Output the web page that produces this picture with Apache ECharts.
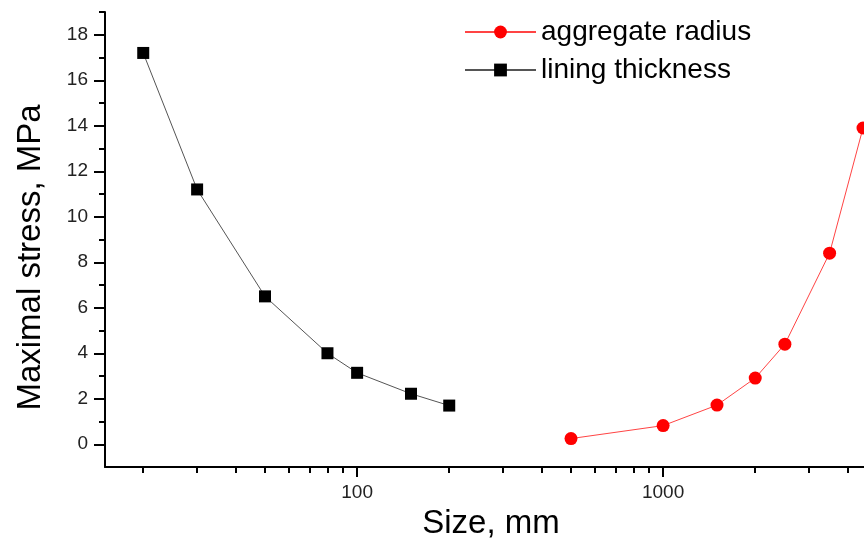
<!DOCTYPE html>
<html>
<head>
<meta charset="utf-8">
<script src="https://cdn.jsdelivr.net/npm/echarts@6/dist/echarts.min.js"></script>
<style>
html,body{margin:0;padding:0;background:#fff;overflow:hidden;width:864px;height:541px;}
#chart{width:877px;height:541px;}
</style>
</head>
<body>
<div id="chart"></div>
<script>
// Data
const liningSize = [20, 30, 50, 80, 100, 150, 200];
const liningStress = [17.2, 11.2, 6.5, 4.0, 3.14, 2.22, 1.7];
const aggregateSize = [500, 1000, 1500, 2000, 2500, 3500, 4500];
const aggregateStress = [0.25, 0.82, 1.72, 2.91, 4.4, 8.4, 13.9];
const xMajorTicks = [100, 1000];
const xMinorTicks = [20, 30, 40, 50, 60, 70, 80, 90, 200, 300, 400, 500, 600, 700, 800, 900, 2000, 3000, 4000, 5000];
const yMajorTicks = [0, 2, 4, 6, 8, 10, 12, 14, 16, 18];
const yMinorTicks = [1, 3, 5, 7, 9, 11, 13, 15, 17, 19];

const FONT = 'Liberation Sans, Arial, sans-serif';
const chart = echarts.init(document.getElementById('chart'));

const pairs = (xs, ys) => xs.map((x, i) => [x, ys[i]]);

chart.setOption({
  animation: false,
  backgroundColor: '#fff',
  grid: { left: 105, top: 12, right: 0, bottom: 74, containLabel: false, outerBoundsMode: 'none' },
  legend: {
    orient: 'vertical',
    left: 459,
    top: 13,
    itemWidth: 71,
    itemHeight: 16,
    itemGap: 10,
    data: ['aggregate radius', 'lining thickness'],
    textStyle: { fontFamily: FONT, fontSize: 28, color: '#000' }
  },
  xAxis: [
    {
      type: 'log', logBase: 10, min: 15, max: 5000,
      name: 'Size, mm', nameLocation: 'middle', nameGap: 40,
      nameTextStyle: { fontFamily: FONT, fontSize: 33, color: '#000' },
      axisLine: { show: true, onZero: false, lineStyle: { color: '#000', width: 2 } },
      axisTick: { show: true, length: 10, lineStyle: { color: '#000', width: 2 }, customValues: xMajorTicks },
      axisLabel: { fontFamily: FONT, fontSize: 19, color: '#222', margin: 16, customValues: xMajorTicks,
                   formatter: v => String(Math.round(v)) },
      splitLine: { show: false },
      minorTick: { show: false }
    },
    {
      type: 'log', logBase: 10, min: 15, max: 5000, position: 'bottom',
      axisLine: { show: false, onZero: false },
      axisTick: { show: true, length: 6, lineStyle: { color: '#000', width: 2 }, customValues: xMinorTicks },
      axisLabel: { show: false },
      splitLine: { show: false }
    }
  ],
  yAxis: [
    {
      type: 'value', min: -1, max: 19,
      name: 'Maximal stress, MPa', nameLocation: 'middle', nameGap: 58,
      nameTextStyle: { fontFamily: FONT, fontSize: 33, color: '#000', padding: [0, 36, 0, 0] },
      axisLine: { show: true, onZero: false, lineStyle: { color: '#000', width: 2 } },
      axisTick: { show: true, length: 11, lineStyle: { color: '#000', width: 2 }, customValues: yMajorTicks },
      axisLabel: { fontFamily: FONT, fontSize: 19, color: '#222', margin: 17, customValues: yMajorTicks },
      splitLine: { show: false }
    },
    {
      type: 'value', min: -1, max: 19, position: 'left',
      axisLine: { show: false, onZero: false },
      axisTick: { show: true, length: 6, lineStyle: { color: '#000', width: 2 }, customValues: yMinorTicks },
      axisLabel: { show: false },
      splitLine: { show: false }
    }
  ],
  series: [
    {
      name: 'lining thickness', type: 'line',
      xAxisIndex: 0, yAxisIndex: 0,
      data: pairs(liningSize, liningStress),
      symbol: 'rect', symbolSize: 12,
      itemStyle: { color: '#000' },
      lineStyle: { color: '#555', width: 1 },
      clip: false
    },
    {
      name: 'aggregate radius', type: 'line',
      xAxisIndex: 0, yAxisIndex: 0,
      data: pairs(aggregateSize, aggregateStress),
      symbol: 'circle', symbolSize: 13,
      itemStyle: { color: '#ff0000' },
      lineStyle: { color: '#ff4444', width: 1 },
      clip: false
    }
  ]
});
</script>
</body>
</html>
